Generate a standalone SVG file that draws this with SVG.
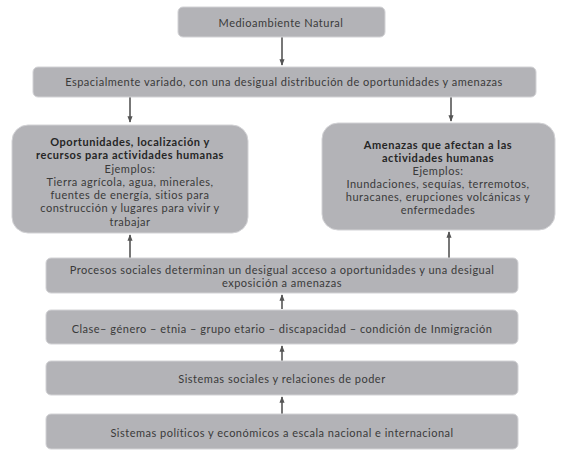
<svg xmlns="http://www.w3.org/2000/svg" width="571" height="465" viewBox="0 0 571 465">
<defs>
<style>
.box{fill:#b3b3b7;stroke:#d2d2d5;stroke-width:1}
text{font-family:Lato,"Open Sans",sans-serif;font-size:11px;letter-spacing:0.5px;fill:#3a3a3a;text-anchor:middle}
.b{font-weight:bold;letter-spacing:0.55px;fill:#262626}
.c{stroke:#555;stroke-width:1.6;fill:none;marker-end:url(#ah)}
</style>
<marker id="ah" viewBox="0 0 10 10" refX="9" refY="5" markerWidth="4" markerHeight="4" orient="auto">
<path d="M0,1 L10,5 L0,9 z" fill="#555"/>
</marker>
</defs>
<rect width="571" height="465" fill="#fff"/>
<g id="connectors">
<line class="c" x1="282" y1="37" x2="282" y2="65"/>
<line class="c" x1="130" y1="97" x2="130" y2="122"/>
<line class="c" x1="451" y1="97" x2="451" y2="121"/>
<line class="c" x1="130" y1="258" x2="130" y2="235"/>
<line class="c" x1="449" y1="258" x2="449" y2="232"/>
<line class="c" x1="282" y1="309" x2="282" y2="295"/>
<line class="c" x1="282" y1="361" x2="282" y2="346"/>
<line class="c" x1="282" y1="414" x2="282" y2="397"/>
</g>
<g id="n1"><rect class="box" x="178" y="7" width="207" height="30" rx="5"/><text x="281" y="27">Medioambiente Natural</text></g>
<g id="n2"><rect class="box" x="33" y="67" width="503" height="30" rx="5"/><text x="284" y="86">Espacialmente variado, con una desigual distribución de oportunidades y amenazas</text></g>
<g id="n3"><rect class="box" x="12" y="125" width="236" height="108" rx="16"/>
<text x="130" y="146" class="b">Oportunidades, localización y</text>
<text x="130" y="159.3" class="b">recursos para actividades humanas</text>
<text x="130" y="172.5">Ejemplos:</text>
<text x="130" y="185.8">Tierra agrícola, agua, minerales,</text>
<text x="130" y="199">fuentes de energía, sitios para</text>
<text x="130" y="212.3">construcción y lugares para vivir y</text>
<text x="130" y="225.5">trabajar</text>
</g>
<g id="n4"><rect class="box" x="322" y="123" width="233" height="107" rx="16"/>
<text x="438" y="149" class="b">Amenazas que afectan a las</text>
<text x="438" y="162" class="b">actividades humanas</text>
<text x="438" y="175">Ejemplos:</text>
<text x="438" y="188">Inundaciones, sequías, terremotos,</text>
<text x="438" y="201">huracanes, erupciones volcánicas y</text>
<text x="438" y="214">enfermedades</text>
</g>
<g id="n5"><rect class="box" x="46" y="258" width="472" height="35" rx="5"/>
<text x="282" y="274">Procesos sociales determinan un desigual acceso a oportunidades y una desigual</text>
<text x="282" y="287">exposición a amenazas</text>
</g>
<g id="n6"><rect class="box" x="46" y="310" width="472" height="34" rx="5"/><text x="282" y="333">Clase– género – etnia – grupo etario – discapacidad – condición de Inmigración</text></g>
<g id="n7"><rect class="box" x="46" y="361" width="472" height="34" rx="5"/><text x="282" y="383">Sistemas sociales y relaciones de poder</text></g>
<g id="n8"><rect class="box" x="46" y="414" width="472" height="35" rx="5"/><text x="282" y="437">Sistemas políticos y económicos a escala nacional e internacional</text></g>
</svg>
